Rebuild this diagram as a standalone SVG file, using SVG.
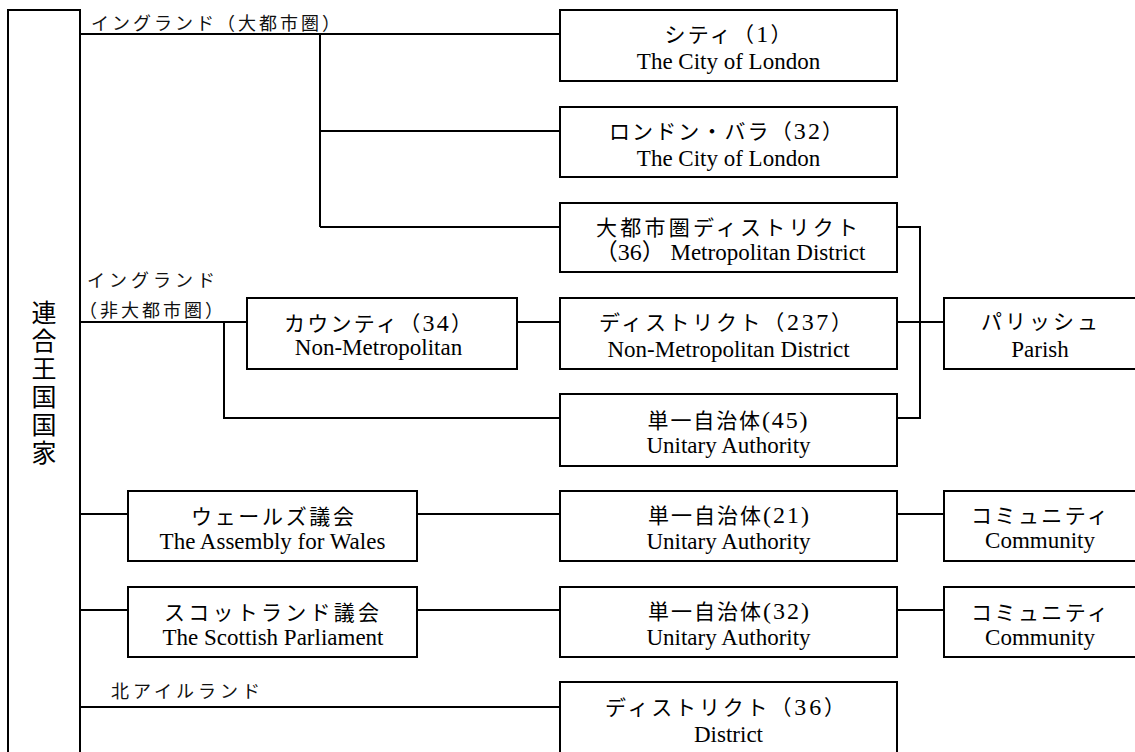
<svg xmlns="http://www.w3.org/2000/svg" width="1135" height="752" viewBox="0 0 1135 752">
<style>
.box{fill:#fff;stroke:#000;stroke-width:2}
.ln{fill:none;stroke:#000;stroke-width:2}
.jp{font-family:"Liberation Serif","Noto Sans CJK JP",serif;font-size:21px;text-anchor:middle;fill:#000}
.num{font-size:24px}
.en{font-family:"Liberation Serif","Noto Sans CJK JP",serif;font-size:23px;text-anchor:middle;fill:#000}
.lbl{font-family:"Noto Sans CJK JP",sans-serif;font-size:18px;fill:#111}
.vt{font-family:"Noto Sans CJK JP",sans-serif;font-size:25px;letter-spacing:3px;writing-mode:vertical-rl;fill:#000}
</style>
<rect width="1135" height="752" fill="#fff"/>
<g id="connectors">
<path class="ln" d="M80 34H560M320 34V227M320 131H560M320 227H560"/>
<path class="ln" d="M80 322H247M224 322V418H560M517 322H560"/>
<path class="ln" d="M897 227H920V418H897M897 322H944"/>
<path class="ln" d="M80 514H128M417 514H560M897 514H944"/>
<path class="ln" d="M80 610H128M417 610H560M897 610H944"/>
<path class="ln" d="M80 707H560"/>
</g>
<g id="labels">
<text class="lbl" x="91" y="30" font-size="20" textLength="249" lengthAdjust="spacing">イングランド（大都市圏）</text>
<text class="lbl" x="87" y="287" textLength="128" lengthAdjust="spacing">イングランド</text>
<text class="lbl" x="79" y="317" textLength="144" lengthAdjust="spacing">（非大都市圏）</text>
<text class="lbl" x="111" y="698" textLength="149" lengthAdjust="spacing">北アイルランド</text>
</g>
<g id="uk">
<rect class="box" x="8" y="10" width="72" height="760"/>
<text class="vt" x="44" y="300">連合王国国家</text>
</g>
<g id="city">
<rect class="box" x="560" y="10" width="337" height="71"/>
<text class="jp" x="728" y="42" textLength="127" lengthAdjust="spacing">シティ（<tspan class="num">1</tspan>）</text>
<text class="en" x="728.5" y="69">The City of London</text>
</g>
<g id="borough">
<rect class="box" x="560" y="107" width="337" height="70"/>
<text class="jp" x="726" y="139" textLength="234" lengthAdjust="spacing">ロンドン・バラ（<tspan class="num">32</tspan>）</text>
<text class="en" x="728.5" y="166">The City of London</text>
</g>
<g id="metdistrict">
<rect class="box" x="560" y="203" width="337" height="69"/>
<text class="jp" x="727" y="235" textLength="262" lengthAdjust="spacing">大都市圏ディストリクト</text>
<text class="en" x="730" y="260">（<tspan class="num">36</tspan>） Metropolitan District</text>
</g>
<g id="nmdistrict">
<rect class="box" x="560" y="298" width="337" height="71"/>
<text class="jp" x="725.5" y="330" textLength="253" lengthAdjust="spacing">ディストリクト（<tspan class="num">237</tspan>）</text>
<text class="en" x="728.5" y="357">Non-Metropolitan District</text>
</g>
<g id="unitary45">
<rect class="box" x="560" y="394" width="337" height="72"/>
<text class="jp" x="727.5" y="428" textLength="160" lengthAdjust="spacing">単一自治体<tspan class="num">(45)</tspan></text>
<text class="en" x="728.5" y="453">Unitary Authority</text>
</g>
<g id="unitary21">
<rect class="box" x="560" y="491" width="337" height="70"/>
<text class="jp" x="728.5" y="523" textLength="161" lengthAdjust="spacing">単一自治体<tspan class="num">(21)</tspan></text>
<text class="en" x="728.5" y="549">Unitary Authority</text>
</g>
<g id="unitary32">
<rect class="box" x="560" y="587" width="337" height="70"/>
<text class="jp" x="728.5" y="619" textLength="161" lengthAdjust="spacing">単一自治体<tspan class="num">(32)</tspan></text>
<text class="en" x="728.5" y="645">Unitary Authority</text>
</g>
<g id="nidistrict">
<rect class="box" x="560" y="682" width="337" height="90"/>
<text class="jp" x="725" y="715" textLength="240" lengthAdjust="spacing">ディストリクト（<tspan class="num">36</tspan>）</text>
<text class="en" x="728.5" y="742">District</text>
</g>
<g id="county">
<rect class="box" x="247" y="298" width="270" height="71"/>
<text class="jp" x="378" y="331" textLength="188" lengthAdjust="spacing">カウンティ（<tspan class="num">34</tspan>）</text>
<text class="en" x="378.5" y="355">Non-Metropolitan</text>
</g>
<g id="wales">
<rect class="box" x="128" y="491" width="289" height="70"/>
<text class="jp" x="272.5" y="524" textLength="163" lengthAdjust="spacing">ウェールズ議会</text>
<text class="en" x="272.5" y="549">The Assembly for Wales</text>
</g>
<g id="scotland">
<rect class="box" x="128" y="587" width="289" height="70"/>
<text class="jp" x="271.5" y="620" textLength="215" lengthAdjust="spacing">スコットランド議会</text>
<text class="en" x="273" y="645">The Scottish Parliament</text>
</g>
<g id="parish">
<rect class="box" x="944" y="298" width="200" height="71"/>
<text class="jp" x="1039.5" y="329" textLength="117" lengthAdjust="spacing">パリッシュ</text>
<text class="en" x="1040" y="357">Parish</text>
</g>
<g id="community1">
<rect class="box" x="944" y="491" width="200" height="70"/>
<text class="jp" x="1039.5" y="523" textLength="137" lengthAdjust="spacing">コミュニティ</text>
<text class="en" x="1040" y="548">Community</text>
</g>
<g id="community2">
<rect class="box" x="944" y="587" width="200" height="70"/>
<text class="jp" x="1039.5" y="620" textLength="137" lengthAdjust="spacing">コミュニティ</text>
<text class="en" x="1040" y="645">Community</text>
</g>
</svg>
